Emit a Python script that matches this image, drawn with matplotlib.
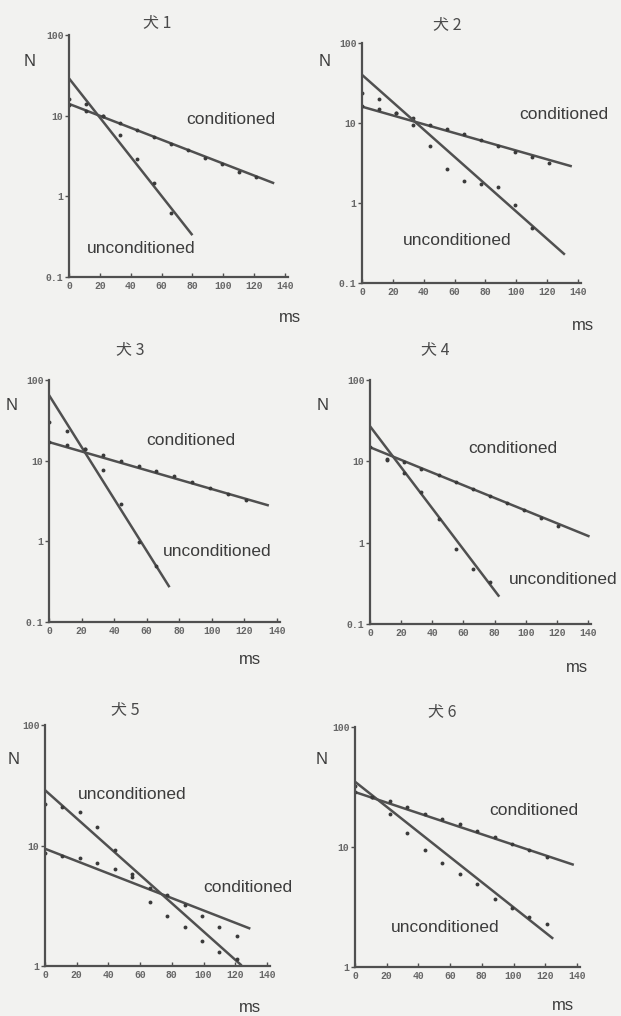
import numpy as np
import matplotlib.pyplot as plt

plt.rcParams['font.family'] = ['Liberation Sans', 'Noto Sans CJK JP', 'DejaVu Sans']

W, H = 621, 1016
BG = '#f2f2f0'
INK = '#505050'

# sampling times (ms)
t_all = [0, 11, 22, 33, 44, 55, 66, 77, 88, 99, 110, 121]

# dog 1
d1_cond_t = t_all
d1_cond = [13.5, 11.5, 10, 8, 6.6, 5.4, 4.5, 3.7, 3.0, 2.5, 2.0, 1.75]
d1_unc_t = [0, 11, 22, 33, 44, 55, 66]
d1_unc = [16, 14, 10, 5.8, 2.9, 1.45, 0.63]
d1_cond_fit = ([0, 133], [14, 1.45])
d1_unc_fit = ([0, 80], [29, 0.33])

# dog 2
d2_cond_t = t_all
d2_cond = [16.5, 15, 13.5, 11.5, 9.5, 8.4, 7.3, 6.2, 5.2, 4.4, 3.8, 3.2]
d2_unc_t = [0, 11, 22, 33, 44, 55, 66, 77, 88, 99, 110]
d2_unc = [24, 20, 13.5, 9.4, 5.1, 2.66, 1.86, 1.75, 1.6, 0.95, 0.49]
d2_cond_fit = ([0, 136], [16, 2.87])
d2_unc_fit = ([0, 131.5], [40, 0.226])

# dog 3
d3_cond_t = t_all
d3_cond = [17, 15.6, 14, 11.8, 10, 8.7, 7.5, 6.5, 5.5, 4.6, 3.9, 3.3]
d3_unc_t = [0, 11, 22, 33, 44, 55, 66]
d3_unc = [30, 23, 14, 7.6, 2.9, 0.97, 0.5]
d3_cond_fit = ([0, 135], [17, 2.78])
d3_unc_fit = ([0, 74], [65, 0.27])

# dog 4
d4_cond_t = t_all
d4_cond = [14.8, 10.7, 9.7, 8.0, 6.7, 5.5, 4.6, 3.8, 3.1, 2.5, 2.0, 1.6]
d4_unc_t = [11, 22, 33, 44, 55, 66, 77]
d4_unc = [10.5, 7.1, 4.2, 1.94, 0.83, 0.48, 0.33]
d4_cond_fit = ([0, 141], [14.9, 1.19])
d4_unc_fit = ([0, 83], [27, 0.217])

# dog 5
d5_cond_t = t_all
d5_cond = [8.7, 8.2, 7.9, 7.2, 6.4, 5.8, 4.4, 3.9, 3.2, 2.6, 2.1, 1.79]
d5_unc_t = t_all
d5_unc = [22, 21, 19, 14.3, 9.2, 5.5, 3.4, 2.6, 2.1, 1.6, 1.3, 1.14]
d5_cond_fit = ([0, 129.5], [9.4, 2.04])
d5_unc_fit = ([0, 124], [28.8, 1.01])

# dog 6
d6_cond_t = t_all
d6_cond = [29, 26, 24, 21.5, 19, 17.2, 15.5, 13.6, 12.1, 10.6, 9.4, 8.2]
d6_unc_t = t_all
d6_unc = [32, 26, 19, 13.1, 9.4, 7.4, 6.0, 4.9, 3.7, 3.1, 2.6, 2.3]
d6_cond_fit = ([0, 138], [28.7, 7.1])
d6_unc_fit = ([0, 125], [35, 1.72])

titles = ['犬 1', '犬 2', '犬 3', '犬 4', '犬 5', '犬 6']
x_ticks = [0, 20, 40, 60, 80, 100, 120, 140]

panels = [
    dict(title=titles[0], box=(69, 285, 35, 277), ylim=(0.1, 100),
         cond=(d1_cond_t, d1_cond, d1_cond_fit), unc=(d1_unc_t, d1_unc, d1_unc_fit),
         cond_lbl=(105, 9.0), unc_lbl=(47, 0.226),
         title_xy=(157, 23), n_xy=(30, 62), ms_xy=(290, 317)),
    dict(title=titles[1], box=(362, 578, 43, 283), ylim=(0.1, 100),
         cond=(d2_cond_t, d2_cond, d2_cond_fit), unc=(d2_unc_t, d2_unc, d2_unc_fit),
         cond_lbl=(131, 12.7), unc_lbl=(61.6, 0.34),
         title_xy=(447, 25), n_xy=(325, 62), ms_xy=(583, 325)),
    dict(title=titles[2], box=(49, 277, 380, 622), ylim=(0.1, 100),
         cond=(d3_cond_t, d3_cond, d3_cond_fit), unc=(d3_unc_t, d3_unc, d3_unc_fit),
         cond_lbl=(87, 17.9), unc_lbl=(103, 0.75),
         title_xy=(130, 350), n_xy=(12, 405), ms_xy=(250, 660)),
    dict(title=titles[3], box=(370, 588, 380, 624), ylim=(0.1, 100),
         cond=(d4_cond_t, d4_cond, d4_cond_fit), unc=(d4_unc_t, d4_unc, d4_unc_fit),
         cond_lbl=(91.5, 14.5), unc_lbl=(124, 0.355),
         title_xy=(435, 350), n_xy=(323, 405), ms_xy=(577, 667)),
    dict(title=titles[4], box=(45, 267, 725, 966), ylim=(1, 100),
         cond=(d5_cond_t, d5_cond, d5_cond_fit), unc=(d5_unc_t, d5_unc, d5_unc_fit),
         cond_lbl=(127.8, 4.48), unc_lbl=(54.7, 26.7),
         title_xy=(125, 710), n_xy=(14, 760), ms_xy=(250, 1008)),
    dict(title=titles[5], box=(355, 577, 727, 967), ylim=(1, 100),
         cond=(d6_cond_t, d6_cond, d6_cond_fit), unc=(d6_unc_t, d6_unc, d6_unc_fit),
         cond_lbl=(112.6, 20.2), unc_lbl=(56.8, 2.13),
         title_xy=(442, 712), n_xy=(322, 760), ms_xy=(563, 1005)),
]

fig = plt.figure(figsize=(W / 100, H / 100), dpi=100, facecolor=BG)


def fx(px):
    return px / W


def fy(py):
    return 1 - py / H


for p in panels:
    x0, x140, ytop, ybot = p['box']
    xmax = 142
    wpx = (x140 - x0) * xmax / 140
    ax = fig.add_axes([fx(x0), fy(ybot), wpx / W, (ybot - ytop) / H])
    ax.set_facecolor('none')
    ax.set_yscale('log')
    ax.set_xlim(0, xmax)
    ax.set_ylim(*p['ylim'])

    for key in ('cond', 'unc'):
        tt, vals, fit = p[key]
        ax.plot(fit[0], fit[1], color=INK, lw=1.8, solid_capstyle='butt')
        ax.plot(tt, vals, 'o', ms=2.8, color='#3a3a3a', mec='none')

    ax.text(*p['cond_lbl'], 'conditioned', ha='center', va='center',
            fontsize=12.5, color='#3c3c3c')
    ax.text(*p['unc_lbl'], 'unconditioned', ha='center', va='center',
            fontsize=12.5, color='#3c3c3c')

    for s in ('top', 'right'):
        ax.spines[s].set_visible(False)
    for s in ('left', 'bottom'):
        ax.spines[s].set_color(INK)
        ax.spines[s].set_linewidth(1.6)

    lo, hi = p['ylim']
    yt = [v for v in [0.1, 1, 10, 100] if lo <= v <= hi]
    ax.set_yticks(yt)
    ax.set_yticklabels(['0.1' if v == 0.1 else str(int(v)) for v in yt])
    ax.yaxis.set_minor_locator(plt.NullLocator())
    ax.set_xticks(x_ticks)
    ax.set_xticklabels([str(v) for v in x_ticks])
    ax.tick_params(axis='y', direction='out', length=3, width=1, color=INK, pad=1)
    ax.tick_params(axis='x', direction='in', length=3, width=1, color=INK, pad=3)
    for lbl in ax.get_xticklabels() + ax.get_yticklabels():
        lbl.set_family('Liberation Mono')
        lbl.set_fontsize(7)
        lbl.set_fontweight('bold')
        lbl.set_color('#666666')

    fig.text(fx(p['title_xy'][0]), fy(p['title_xy'][1]), p['title'],
             ha='center', va='center', fontsize=11.5, color='#4a4a4a',
             family=['Noto Sans CJK JP', 'DejaVu Sans'])
    fig.text(fx(p['n_xy'][0]), fy(p['n_xy'][1]), 'N', ha='center', va='center',
             fontsize=12, color='#3c3c3c')
    fig.text(fx(p['ms_xy'][0]), fy(p['ms_xy'][1]), 'ms', ha='center', va='center',
             fontsize=12, color='#3c3c3c')

fig.savefig('out.png', dpi=100, facecolor=BG)
